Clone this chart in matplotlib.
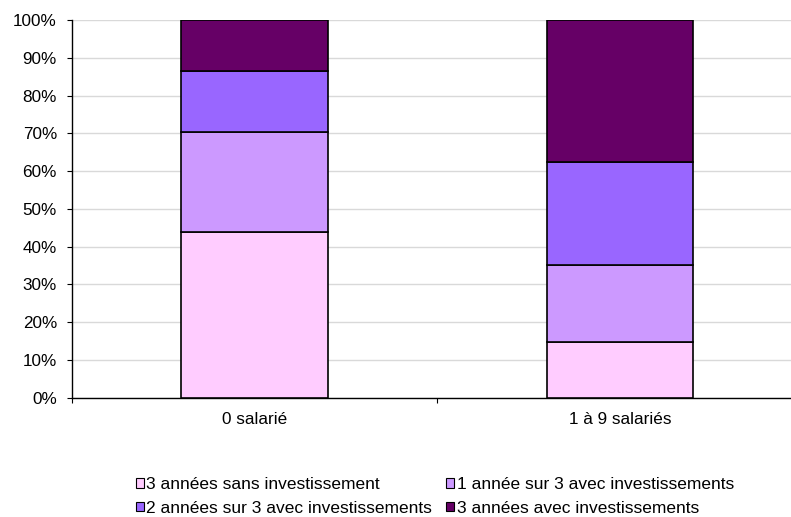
import matplotlib.pyplot as plt
import numpy as np
from matplotlib.patches import Patch
from matplotlib.ticker import FixedLocator

plt.rcParams['font.family'] = ['Liberation Sans', 'DejaVu Sans']

# data (percent of firms)
categories = ['0 salarié', '1 à 9 salariés']
series_names = ['3 années sans investissement',
                '1 année sur 3 avec investissements',
                '2 années sur 3 avec investissements',
                '3 années avec investissements']
sans_invest = [43.8, 14.8]
un_sur_3 = [26.5, 20.3]
deux_sur_3 = [16.2, 27.2]
trois_ans = [13.5, 37.7]
colors = ['#FFCCFF', '#CC99FF', '#9966FF', '#660066']

W, H = 791, 517
fig = plt.figure(figsize=(W / 100, H / 100), dpi=100)
# plot area runs past the right edge of the picture, like the original
left, right, top, bottom = 71.5, 803, 20, 397.7
ax = fig.add_axes([left / W, 1 - bottom / H, (right - left) / W, (bottom - top) / H])

x = np.arange(len(categories))
base = np.zeros(len(categories))
for vals, col in zip([sans_invest, un_sur_3, deux_sur_3, trois_ans], colors):
    ax.bar(x, vals, 0.4, bottom=base, color=col, edgecolor='black', linewidth=1.2, zorder=3)
    base += np.array(vals)

ax.set_xlim(-0.5, 1.5)
ax.set_ylim(0, 100)
ax.set_yticks(np.arange(0, 101, 10))
ax.set_yticklabels([f'{v}%' for v in range(0, 101, 10)], fontsize=12.3)
ax.yaxis.grid(True, color='#d9d9d9', linewidth=1, zorder=0)
ax.tick_params(axis='y', length=3.5, width=0.8, pad=7)

ax.set_xticks(x)
ax.set_xticklabels(categories, fontsize=12.3)
ax.tick_params(axis='x', which='major', length=0, pad=10)
ax.xaxis.set_minor_locator(FixedLocator([-0.5, 0.5, 1.5]))
ax.tick_params(axis='x', which='minor', length=3.5, width=0.8)

for s in ['top', 'right']:
    ax.spines[s].set_visible(False)
ax.spines['left'].set_linewidth(1)
ax.spines['bottom'].set_linewidth(1)

handles = [Patch(facecolor=c, edgecolor='black', linewidth=0.8) for c in colors]
order = [0, 2, 1, 3]
fig.legend([handles[i] for i in order], [series_names[i] for i in order],
           loc='center', bbox_to_anchor=(435 / W, 1 - 496.5 / H), ncol=2,
           frameon=False, fontsize=12.5, handlelength=0.45, handleheight=0.45,
           handletextpad=0.15, columnspacing=0.8, labelspacing=0.48,
           borderpad=0.2)

fig.savefig('out.png', dpi=100)
